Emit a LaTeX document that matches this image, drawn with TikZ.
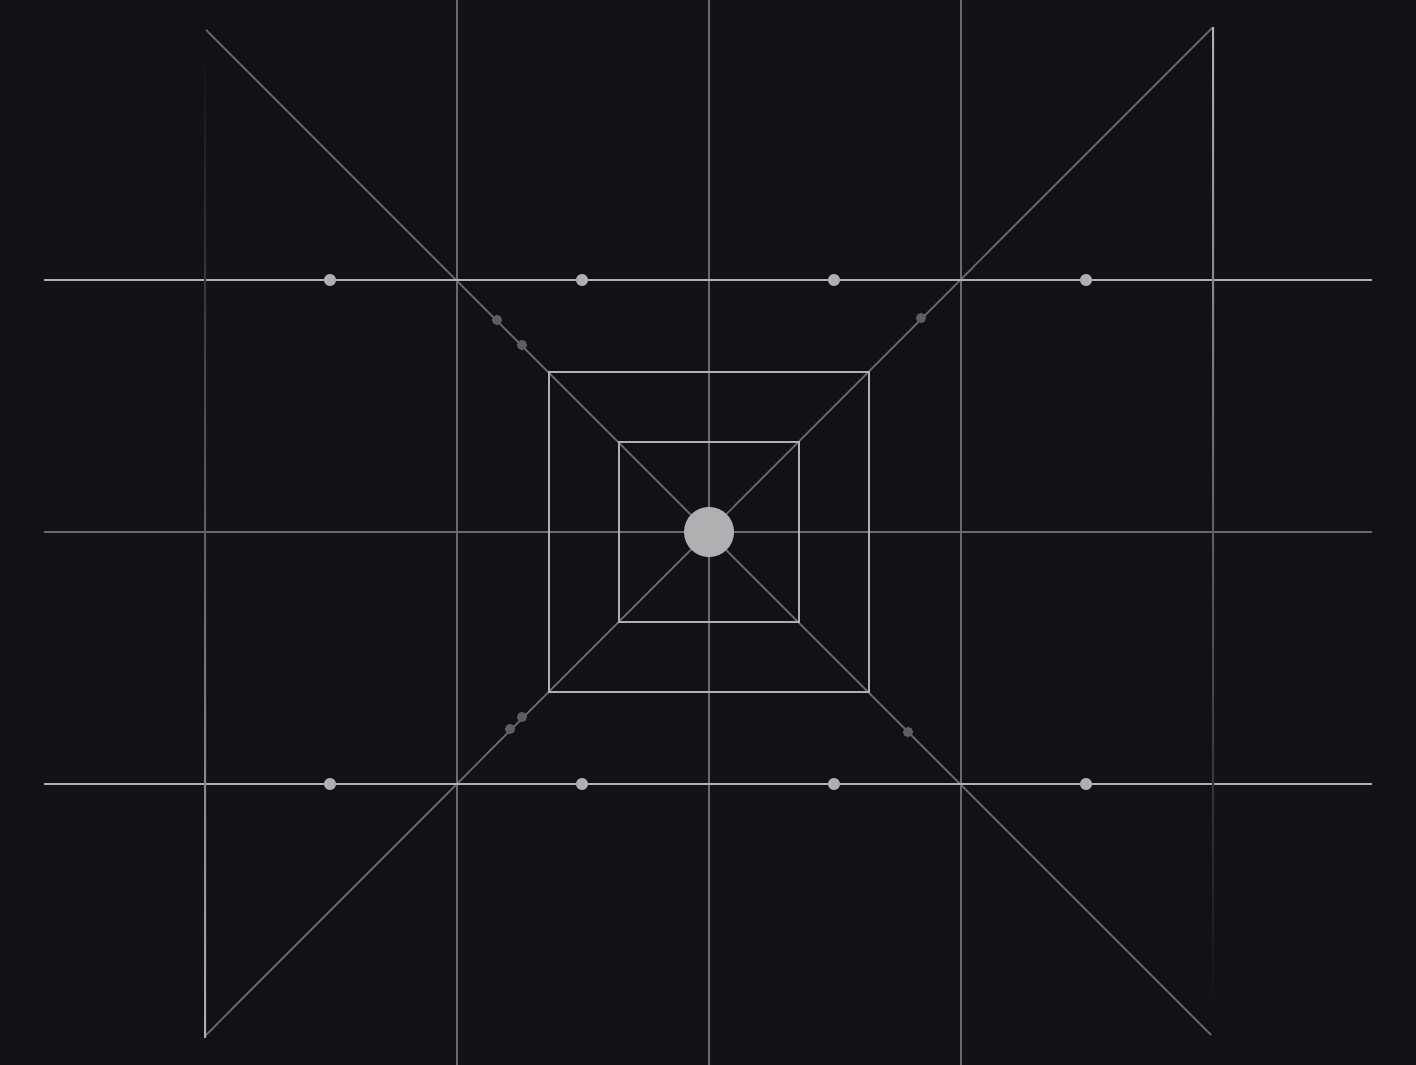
\documentclass[tikz,border=0pt]{standalone}
\usetikzlibrary{positioning}
\definecolor{bg}{HTML}{121117}
\definecolor{lite}{HTML}{B2AFB3}
\definecolor{mid}{HTML}{6A6970}
\definecolor{dim}{HTML}{5E5D63}
\begin{document}
\begin{tikzpicture}[x=0.01cm,y=-0.01cm,
    bright/.style={draw=lite,line width=0.55pt},
    grey/.style={draw=mid,line width=0.5pt},
    bead/.style={circle,fill=lite,inner sep=0pt,minimum size=3.4pt},
    knot/.style={circle,fill=dim,inner sep=0pt,minimum size=2.9pt},
    hub/.style={circle,fill=lite,inner sep=0pt,minimum size=0.5cm}]
      \useasboundingbox (0,0) rectangle (1416,1064);
      \fill[bg] (-20,-20) rectangle (1436,1084);
      \draw
        (457,-5) coordinate (va) (457,1069) coordinate (va')
        (709,-5) coordinate (vb) (709,1069) coordinate (vb')
        (961,-5) coordinate (vc) (961,1069) coordinate (vc')
        (44,280) coordinate (ha) (1372,280) coordinate (ha')
        (44,532) coordinate (hb) (1372,532) coordinate (hb')
        (44,784) coordinate (hc) (1372,784) coordinate (hc')
        (206,30) coordinate (nw) (1211,1035) coordinate (se)
        (205,1036) coordinate (sw) (1212,28) coordinate (ne);
      \begin{scope}[grey]
        \draw (va) to (va');
        \draw (vb) to (vb');
        \draw (vc) to (vc');
        \draw (hb) to (hb');
        \draw (nw) to (se);
        \draw (sw) to (ne);
      \end{scope}
      \begin{scope}[bright]
        \draw (ha) to (ha');
        \draw (hc) to (hc');
        \draw (549,372) rectangle (869,692);
        \draw (619,442) rectangle (799,622);
      \end{scope}
      \shade[top color=bg,bottom color=lite] (204,46) rectangle (206,1037);
      \shade[top color=lite,bottom color=bg] (1212,28) rectangle (1214,1010);
      \foreach \x in {330,582,834,1086}
        \foreach \y in {280,784}
          \node[bead] (b\x\y) at (\x,\y) {};
      \foreach \x/\y [count=\i] in {497/320,522/345,921/318,522/717,510/729,908/732}
        \node[knot] (k\i) at (\x,\y) {};
      \node[hub] (hub) at (709,532) {};
    \end{tikzpicture}
\end{document}
